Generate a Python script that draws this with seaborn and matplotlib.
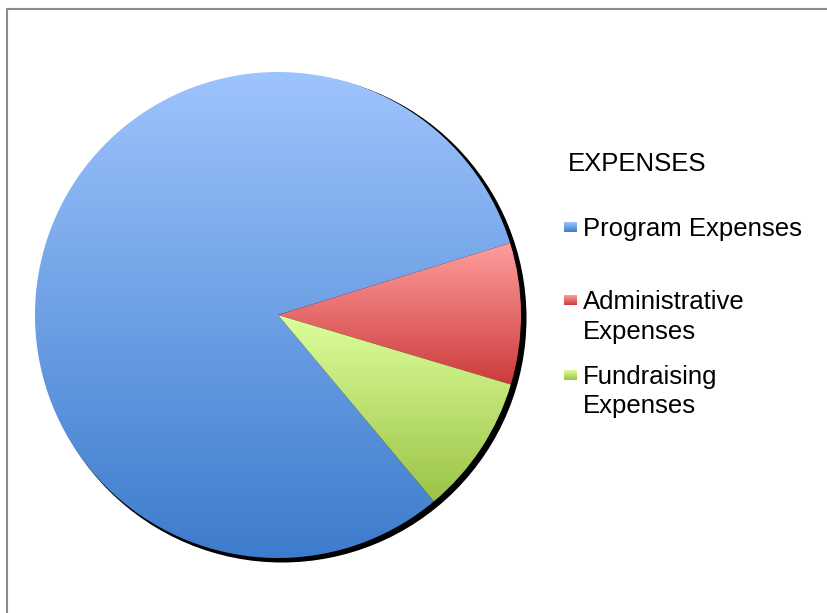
import numpy as np
import matplotlib.pyplot as plt
import seaborn as sns
from matplotlib.colors import LinearSegmentedColormap
from matplotlib.patches import Circle

# Data (share of total expenses, %)
categories = ["Program Expenses", "Administrative\nExpenses", "Fundraising\nExpenses"]
shares = [81.3, 9.4, 9.3]
legend_title = "EXPENSES"

# Excel-style vertical gradients: light at top, darker at bottom
top_colors = ["#9ec4fd", "#ff9d9d", "#ddff9c"]
bottom_colors = ["#3d7ccc", "#cd3b3b", "#9bc347"]

sns.set_style("white")
plt.rcParams["font.family"] = ["Liberation Sans", "DejaVu Sans"]

W, H = 827, 613
fig = plt.figure(figsize=(W / 100, H / 100), dpi=100)
ax = fig.add_axes([0, 0, 1, 1])

cx, cy, r = 278, H - 315, 243

# soft drop shadow to the lower right
ax.add_patch(Circle((cx + 4, cy - 3), r + 1.5, facecolor="black", edgecolor="none", zorder=1))

wedges, _ = ax.pie(shares, center=(cx, cy), radius=r, startangle=309.9,
                   counterclock=False, frame=True)

grad = np.linspace(0, 1, 256).reshape(-1, 1)
for w, c0, c1 in zip(wedges, top_colors, bottom_colors):
    w.set_facecolor("none")
    w.set_edgecolor("none")
    ext = w.get_path().get_extents()
    cmap = LinearSegmentedColormap.from_list("g", [c0, c1])
    im = ax.imshow(grad, cmap=cmap, extent=[ext.x0, ext.x1, ext.y0, ext.y1],
                   origin="upper", aspect="auto", zorder=2, interpolation="bilinear")
    im.set_clip_path(w)

# legend drawn by hand to keep Excel's uneven spacing
fs = 18.5
ax.text(568, H - 171, legend_title, fontsize=fs, va="baseline", ha="left", color="black")
baselines = [236, 309, 384]
for lab, base, c0, c1 in zip(categories, baselines, top_colors, bottom_colors):
    cmap = LinearSegmentedColormap.from_list("g", [c0, c1])
    ax.imshow(grad, cmap=cmap, extent=[564, 577, H - base + 4, H - base + 14],
              origin="upper", aspect="auto", zorder=3)
    for i, line in enumerate(lab.split("\n")):
        ax.text(583, H - base - i * 29.5, line, fontsize=fs, va="baseline",
                ha="left", color="black")

# chart frame (top and left edges visible in the crop)
ax.plot([6.5, 6.5, W], [0, H - 9, H - 9], color="#8a8a8a", lw=1.5, zorder=4)

ax.set_xlim(0, W)
ax.set_ylim(0, H)
ax.set_aspect("equal")
ax.axis("off")

plt.savefig("out.png", dpi=100)
